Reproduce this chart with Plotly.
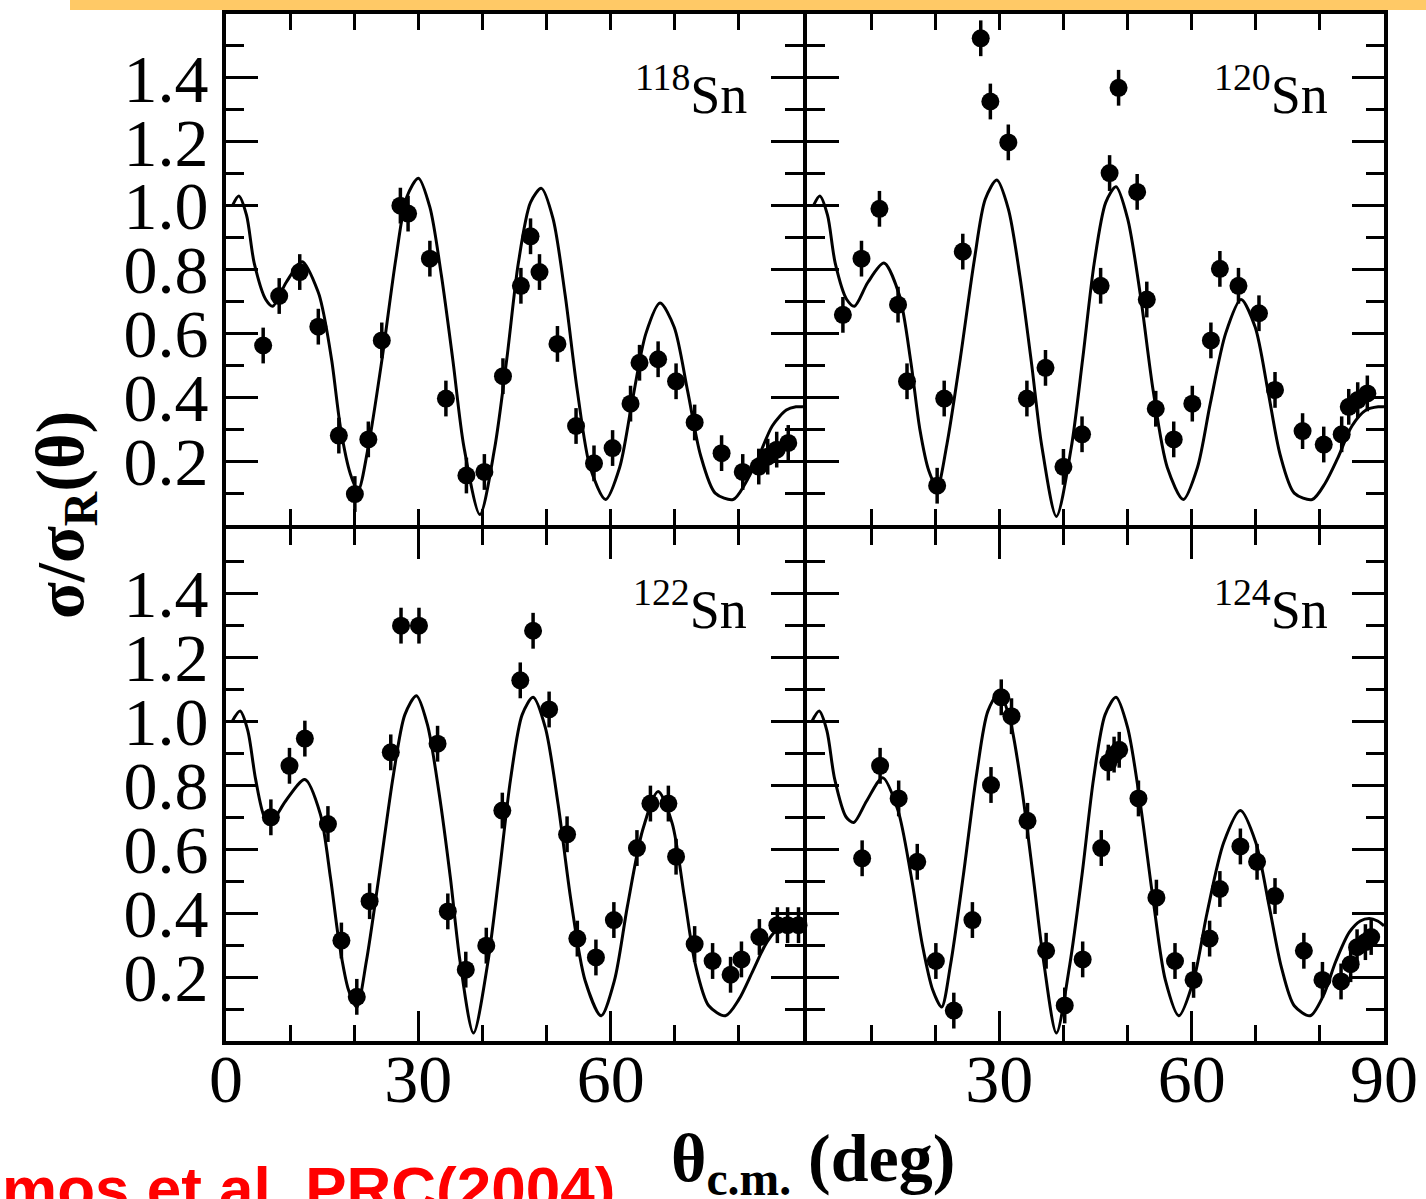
import plotly.graph_objects as go

# ---------------- data ----------------
# theoretical curves
curve118_x = [1.0, 2.0, 3.2, 4.4, 6.2, 7.3, 9.4, 11.9, 14.4, 15.1, 16.5, 17.9, 19.4, 20.6, 22.2, 24.3, 26.5, 28.2, 30.0, 31.8,
              33.6, 35.4, 37.1, 39.6, 41.9, 43.8, 45.6, 47.5, 49.2, 51.0, 52.9, 54.8, 56.8, 59.2, 61.4, 63.3, 65.5, 67.7, 69.9, 72.0,
              74.0, 76.3, 79.1, 81.0, 83.0, 85.2, 87.4, 88.9, 90.0]
curve118_y = [1.00, 1.03, 0.97, 0.82, 0.706, 0.685, 0.76, 0.824, 0.728, 0.674, 0.514, 0.30, 0.16, 0.108, 0.246, 0.514, 0.834, 1.027, 1.086, 0.995,
              0.781, 0.514, 0.246, 0.033, 0.24, 0.52, 0.82, 1.01, 1.054, 0.96, 0.72, 0.42, 0.18, 0.08, 0.18, 0.38, 0.6, 0.695, 0.62, 0.42,
              0.22, 0.1, 0.08, 0.13, 0.21, 0.31, 0.36, 0.37, 0.37]

curve120_x = [1.0, 2.0, 3.2, 4.4, 6.2, 7.4, 9.5, 12.0, 14.4, 16.2, 17.6, 19.0, 20.3, 21.8, 23.9, 26.1, 27.8, 29.6, 31.4, 33.2,
              35.0, 36.6, 38.9, 41.2, 43.0, 44.8, 46.6, 48.2, 50.0, 52.0, 54.0, 56.2, 58.7, 60.9, 62.9, 65.3, 67.7, 69.9, 71.9, 73.8,
              76.0, 78.8, 80.8, 82.8, 85.0, 87.2, 89.1, 90.0]
curve120_y = [1.00, 1.03, 0.97, 0.82, 0.706, 0.685, 0.76, 0.82, 0.72, 0.51, 0.30, 0.17, 0.118, 0.25, 0.52, 0.83, 1.02, 1.08, 0.99, 0.78,
              0.51, 0.25, 0.027, 0.24, 0.52, 0.82, 1.01, 1.059, 0.96, 0.72, 0.42, 0.18, 0.08, 0.18, 0.38, 0.6, 0.706, 0.62, 0.42, 0.22,
              0.1, 0.08, 0.13, 0.21, 0.31, 0.36, 0.37, 0.37]

curve122_x = [1.0, 2.2, 3.4, 4.6, 6.0, 7.0, 9.3, 12.3, 14.7, 16.3, 17.7, 19.1, 20.4, 21.9, 23.9, 26.1, 27.9, 29.7, 31.4, 33.2,
              35.0, 36.5, 38.6, 40.8, 42.6, 44.4, 46.2, 47.9, 49.8, 51.8, 53.8, 56.0, 58.5, 60.6, 62.6, 65.0, 67.4, 69.6, 71.5, 73.2,
              75.3, 77.9, 80.0, 82.2, 84.4, 86.6, 88.5, 90.0]
curve122_y = [1.00, 1.031, 0.97, 0.82, 0.70, 0.683, 0.75, 0.817, 0.71, 0.51, 0.30, 0.16, 0.106, 0.25, 0.52, 0.83, 1.02, 1.079, 0.99, 0.78,
              0.51, 0.25, 0.025, 0.24, 0.52, 0.82, 1.02, 1.074, 0.98, 0.74, 0.44, 0.19, 0.079, 0.19, 0.42, 0.66, 0.78, 0.68, 0.45, 0.24,
              0.11, 0.079, 0.13, 0.22, 0.31, 0.36, 0.375, 0.375]

curve124_x = [0.8, 1.9, 3.1, 4.3, 6.1, 7.3, 9.3, 11.8, 14.2, 16.2, 18.0, 19.6, 21.0, 22.4, 24.4, 26.5, 28.2, 30.0, 31.7, 33.5,
              35.3, 36.9, 38.9, 41.0, 42.9, 44.7, 46.5, 48.2, 50.0, 52.0, 54.0, 55.9, 58.0, 60.3, 62.4, 65.0, 67.6, 70.0, 72.1, 74.0,
              76.0, 78.5, 80.5, 82.5, 84.6, 86.3, 87.7, 89.0, 90.0]
curve124_y = [1.00, 1.031, 0.97, 0.82, 0.70, 0.683, 0.75, 0.823, 0.72, 0.52, 0.30, 0.16, 0.106, 0.24, 0.52, 0.84, 1.03, 1.09, 1.0, 0.79,
              0.51, 0.25, 0.025, 0.24, 0.52, 0.82, 1.02, 1.074, 0.98, 0.74, 0.44, 0.19, 0.079, 0.19, 0.40, 0.62, 0.72, 0.62, 0.42, 0.23,
              0.11, 0.079, 0.14, 0.25, 0.34, 0.375, 0.383, 0.375, 0.36]

# experimental points
data118_x = [5.8, 8.3, 11.5, 14.4, 17.6, 20.1, 22.2, 24.3, 27.2, 28.4, 31.8, 34.3, 37.5, 40.3, 43.2, 46.0, 47.5, 48.9, 51.7, 54.6,
             57.4, 60.3, 63.1, 64.5, 67.4, 70.2, 73.1, 77.3, 80.6, 83.1, 84.5, 85.9, 87.7]
data118_y = [0.562, 0.717, 0.792, 0.621, 0.28, 0.097, 0.268, 0.578, 1.0, 0.975, 0.834, 0.396, 0.155, 0.166, 0.466, 0.749, 0.904, 0.792, 0.567, 0.31,
             0.193, 0.241, 0.38, 0.508, 0.519, 0.45, 0.321, 0.225, 0.166, 0.183, 0.214, 0.236, 0.257]

data120_x = [5.6, 8.5, 11.3, 14.2, 15.6, 20.3, 21.4, 24.3, 27.1, 28.6, 31.4, 34.3, 37.2, 40.0, 42.9, 45.8, 47.2, 48.6, 51.5, 53.0,
             54.4, 57.2, 60.1, 63.0, 64.4, 67.3, 70.5, 73.0, 77.3, 80.6, 83.4, 84.5, 85.9, 87.4]
data120_y = [0.658, 0.834, 0.99, 0.69, 0.45, 0.123, 0.396, 0.856, 1.524, 1.326, 1.198, 0.396, 0.492, 0.182, 0.284, 0.749, 1.102, 1.369, 1.043, 0.706,
             0.364, 0.268, 0.38, 0.578, 0.802, 0.749, 0.663, 0.423, 0.294, 0.252, 0.284, 0.37, 0.391, 0.412]

data122_x = [7.0, 9.9, 12.3, 15.9, 18.0, 20.4, 22.4, 25.7, 27.3, 30.1, 33.0, 34.6, 37.4, 40.6, 43.1, 45.9, 47.9, 50.4, 53.2, 54.8,
             57.7, 60.5, 64.1, 66.2, 69.0, 70.2, 73.1, 75.9, 78.7, 80.4, 83.2, 86.0, 87.6, 89.3]
data122_y = [0.699, 0.86, 0.945, 0.678, 0.314, 0.138, 0.437, 0.902, 1.298, 1.298, 0.929, 0.405, 0.223, 0.298, 0.72, 1.127, 1.282, 1.036, 0.646, 0.32,
             0.261, 0.378, 0.603, 0.742, 0.742, 0.576, 0.303, 0.25, 0.207, 0.255, 0.325, 0.362, 0.362, 0.362]

data124_x = [8.6, 11.4, 14.3, 17.2, 20.1, 22.9, 25.8, 28.7, 30.3, 31.9, 34.4, 37.3, 40.2, 43.0, 45.9, 47.0, 47.9, 48.7, 51.7, 54.5,
             57.4, 60.3, 62.8, 64.4, 67.6, 70.2, 73.0, 77.5, 80.4, 83.3, 84.8, 85.8, 87.1, 88.0]
data124_y = [0.571, 0.86, 0.758, 0.56, 0.25, 0.095, 0.378, 0.8, 1.074, 1.015, 0.688, 0.282, 0.111, 0.255, 0.603, 0.87, 0.895, 0.91, 0.758, 0.448,
             0.25, 0.191, 0.32, 0.475, 0.608, 0.56, 0.453, 0.282, 0.191, 0.186, 0.24, 0.293, 0.309, 0.325]

panel_labels = ["118", "120", "122", "124"]
x_ticks = [0, 30, 60, 90]
x_ticktext_left = ["0", "30", "60", ""]
x_ticktext_right = ["", "30", "60", "90"]
y_ticks = [0.2, 0.4, 0.6, 0.8, 1.0, 1.2, 1.4]
y_ticktext = ["0.2", "0.4", "0.6", "0.8", "1.0", "1.2", "1.4"]

# ---------------- figure ----------------
W, H = 1426, 1199
fig = go.Figure()

panels = [
    (curve118_x, curve118_y, data118_x, data118_y, "x", "y"),
    (curve120_x, curve120_y, data120_x, data120_y, "x2", "y2"),
    (curve122_x, curve122_y, data122_x, data122_y, "x3", "y3"),
    (curve124_x, curve124_y, data124_x, data124_y, "x4", "y4"),
]
for cx, cy, dx, dy, xa, ya in panels:
    fig.add_trace(go.Scatter(x=cx, y=cy, mode="lines", xaxis=xa, yaxis=ya,
                             line=dict(color="black", width=3, shape="spline", smoothing=0.8),
                             hoverinfo="skip"))
    fig.add_trace(go.Scatter(x=dx, y=dy, mode="markers", xaxis=xa, yaxis=ya,
                             marker=dict(color="black", size=18, symbol="circle"),
                             error_y=dict(type="constant", value=0.056, thickness=3.5, width=0, color="black"),
                             cliponaxis=False))

# plot-area domains (pixels), inset by half the frame width so adjacent frames coincide
LW = 4
xl = ((224 + LW / 2) / W, (805 - LW / 2) / W)
xr = ((805 + LW / 2) / W, (1386 - LW / 2) / W)
yt = (1 - (527 - LW / 2) / H, 1 - (12 + LW / 2) / H)
yb = (1 - (1043 - LW / 2) / H, 1 - (527 + LW / 2) / H)

tickfont = dict(family="Liberation Serif", size=68, color="black")


def xaxis(domain, anchor, labels):
    d = dict(domain=list(domain), anchor=anchor, range=[0, 90], showline=True, linewidth=LW,
             linecolor="black", mirror="allticks", ticks="inside", ticklen=30, tickwidth=3,
             tickcolor="black", showgrid=False, zeroline=False, tickmode="array",
             tickvals=x_ticks, tickfont=tickfont, ticklabelstandoff=-25, automargin=False,
             minor=dict(ticks="inside", tickmode="linear", tick0=0, dtick=10, ticklen=16,
                        tickwidth=3, tickcolor="black", showgrid=False))
    if labels is None:
        d["showticklabels"] = False
        d["ticktext"] = ["", "", "", ""]
    else:
        d["ticktext"] = labels
    return d


def yaxis(domain, anchor, labels):
    d = dict(domain=list(domain), anchor=anchor, range=[0, 1.6], showline=True, linewidth=LW,
             linecolor="black", mirror="allticks", ticks="inside", ticklen=32, tickwidth=3,
             tickcolor="black", showgrid=False, zeroline=False, tickmode="array",
             tickvals=y_ticks, ticktext=y_ticktext, tickfont=tickfont, ticklabelstandoff=0,
             automargin=False,
             minor=dict(ticks="inside", tickmode="linear", tick0=0, dtick=0.1, ticklen=18,
                        tickwidth=3, tickcolor="black", showgrid=False))
    if not labels:
        d["showticklabels"] = False
    return d


fig.update_layout(
    width=W, height=H,
    margin=dict(l=0, r=0, t=0, b=0, autoexpand=False),
    paper_bgcolor="white", plot_bgcolor="white",
    showlegend=False,
    xaxis=xaxis(xl, "y", None),
    yaxis=yaxis(yt, "x", True),
    xaxis2=xaxis(xr, "y2", None),
    yaxis2=yaxis(yt, "x2", False),
    xaxis3=xaxis(xl, "y3", x_ticktext_left),
    yaxis3=yaxis(yb, "x3", True),
    xaxis4=xaxis(xr, "y4", x_ticktext_right),
    yaxis4=yaxis(yb, "x4", False),
)

# isotope labels
for i, lab in enumerate(panel_labels):
    xa = "x" if i == 0 else f"x{i+1}"
    ya = "y" if i == 0 else f"y{i+1}"
    fig.add_annotation(text=f"<sup>{lab}</sup>Sn", xref=f"{xa} domain", yref=f"{ya} domain",
                       x=1, y=1, xanchor="right", yanchor="top", xshift=-54, yshift=-40,
                       showarrow=False, font=dict(family="Liberation Serif", size=54, color="black"))

# axis titles
fig.add_annotation(text="σ/σ<sub>R</sub>(θ)", xref="paper", yref="paper", x=64 / W, y=1 - 515 / H,
                   xanchor="center", yanchor="middle", textangle=-90, showarrow=False,
                   font=dict(family="Liberation Serif", size=68, color="black", weight="bold"))
fig.add_annotation(text="θ<sub>c.m.</sub> (deg)", xref="paper", yref="paper", x=813 / W, y=1 - 1162 / H,
                   xanchor="center", yanchor="middle", showarrow=False,
                   font=dict(family="Liberation Serif", size=68, color="black", weight="bold"))

# citation (cut off at the edges like the original slide)
fig.add_annotation(text="mos et al. PRC(2004)", xref="paper", yref="paper", x=0, y=1 - 1152 / H,
                   xanchor="left", yanchor="top", showarrow=False,
                   font=dict(family="Liberation Sans", size=62, color="#FF0000", weight="bold"))

# orange bar at top
fig.add_shape(type="rect", xref="paper", yref="paper", x0=70 / W, x1=1, y0=1 - 10 / H, y1=1,
              fillcolor="#FFC966", line=dict(width=0), layer="above")

fig.write_html("out.html")
